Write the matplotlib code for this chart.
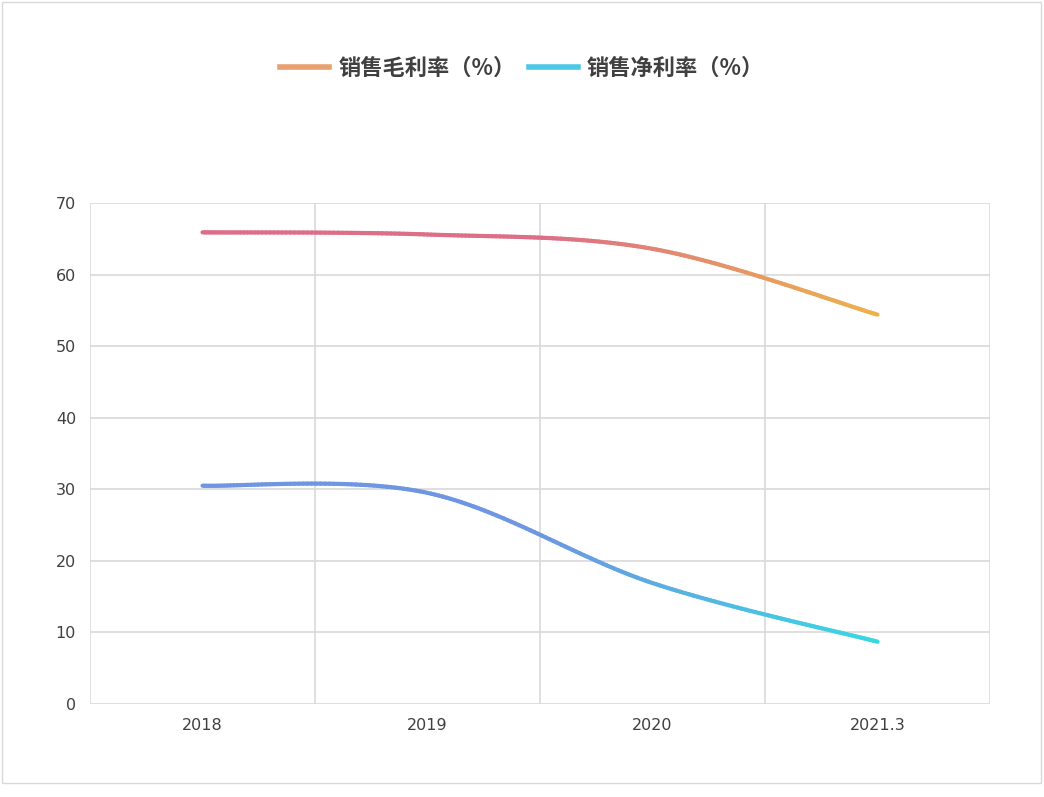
import numpy as np
import matplotlib
matplotlib.use("Agg")
import matplotlib.pyplot as plt
from matplotlib import font_manager
from matplotlib.collections import LineCollection
from matplotlib.colors import LinearSegmentedColormap
from matplotlib.lines import Line2D
from matplotlib.patches import Rectangle

cjk = [f for f in font_manager.fontManager.ttflist if "CJK" in f.name]
cjk_sc = [f for f in cjk if "SC" in f.name] or cjk
cjk_bold = [f for f in cjk_sc if f.weight in (700, "bold")] or cjk_sc
legend_font = font_manager.FontProperties(fname=cjk_bold[0].fname, size=16, weight="bold") if cjk_bold else None
if cjk_sc:
    plt.rcParams["font.family"] = [cjk_sc[0].name, "DejaVu Sans"]

categories = ["2018", "2019", "2020", "2021.3"]
gross_margin = [65.9, 65.6, 63.6, 54.4]
net_margin = [30.5, 29.5, 16.9, 8.7]
series_names = ["销售毛利率（%）", "销售净利率（%）"]
yticks = [0, 10, 20, 30, 40, 50, 60, 70]


def smooth(x, y, n=60):
    x = np.asarray(x, float); y = np.asarray(y, float)
    px = np.concatenate([[x[0]], x, [x[-1]]]); py = np.concatenate([[y[0]], y, [y[-1]]])
    X, Y = [], []
    for i in range(1, len(px) - 2):
        p0, p1, p2, p3 = [np.array([px[j], py[j]]) for j in (i - 1, i, i + 1, i + 2)]
        c1 = p1 + (p2 - p0) / 6; c2 = p2 - (p3 - p1) / 6
        t = np.linspace(0, 1, n)[:, None]
        b = (1 - t) ** 3 * p1 + 3 * (1 - t) ** 2 * t * c1 + 3 * (1 - t) * t ** 2 * c2 + t ** 3 * p2
        X.extend(b[:, 0]); Y.extend(b[:, 1])
    return np.array(X), np.array(Y)


fig = plt.figure(figsize=(10.44, 7.97), dpi=100)
fig.patches.append(Rectangle((0.002, 0.018), 0.995, 0.979, transform=fig.transFigure,
                             fill=False, edgecolor="#d9d9d9", lw=1))
ax = fig.add_axes([90 / 1044, 1 - 704 / 797, 900 / 1044, 501 / 797])
xs = np.arange(len(categories)) + 0.5

for vals, c0, c1 in [(gross_margin, "#dc6e88", "#ecb24e"), (net_margin, "#6e96e2", "#38d8e2")]:
    sx, sy = smooth(xs, vals)
    pts = np.array([sx, sy]).T.reshape(-1, 1, 2)
    segs = np.concatenate([pts[:-1], pts[1:]], axis=1)
    cmap = LinearSegmentedColormap.from_list("g", [c0, c0, c1])
    lc = LineCollection(segs, cmap=cmap, linewidths=3, capstyle="round", joinstyle="round", zorder=3)
    lc.set_array((sx[:-1] - sx.min()) / (sx.max() - sx.min()))
    ax.add_collection(lc)

ax.set_xlim(0, len(categories))
ax.set_ylim(0, 70)
ax.set_yticks(yticks)
ax.set_xticks(xs)
ax.set_xticklabels(categories)
ax.grid(False)
for v in yticks:
    ax.axhline(v, color="#d9d9d9", lw=1.2, zorder=0)
for v in range(len(categories) + 1):
    ax.axvline(v, color="#d9d9d9", lw=1.2, zorder=0)
for s in ax.spines.values():
    s.set_visible(False)
ax.tick_params(axis="both", which="both", length=0, labelsize=12, colors="#404040", pad=10)
for lab in ax.get_xticklabels() + ax.get_yticklabels():
    lab.set_fontfamily("DejaVu Sans")
    lab.set_fontsize(11.5)

handles = [Line2D([], [], color="#e9a070", lw=4), Line2D([], [], color="#4cc8e6", lw=4)]
prop = legend_font if legend_font is not None else {"size": 16, "weight": "bold"}
fig.legend(handles, series_names, loc="center", bbox_to_anchor=(0.5, 1 - 68 / 797), ncol=2,
           frameon=False, prop=prop, labelcolor="#404040",
           handlelength=2.2, columnspacing=0.6, handletextpad=0.4)
fig.savefig("out.png", dpi=100)
